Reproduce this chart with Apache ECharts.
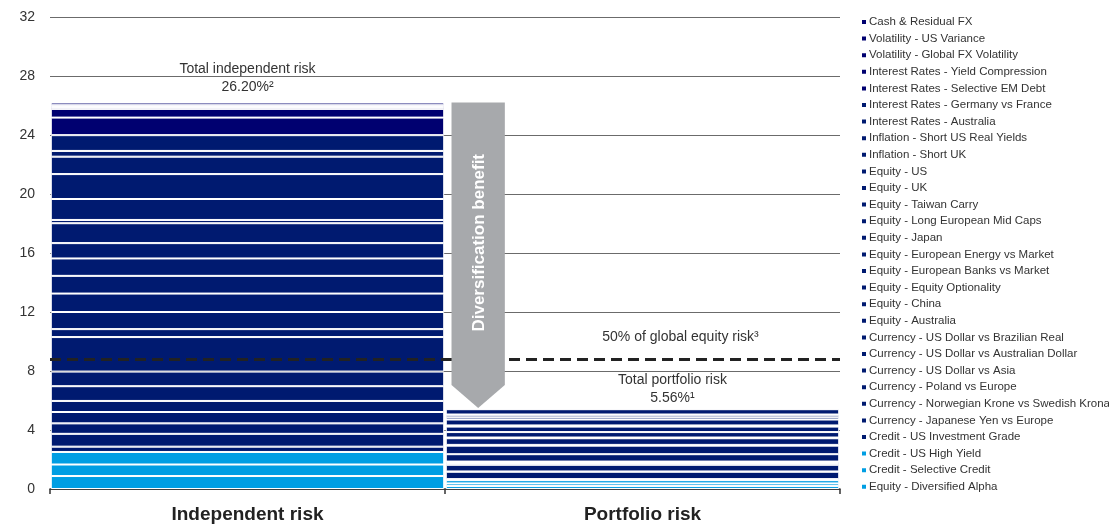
<!DOCTYPE html>
<html><head><meta charset="utf-8">
<script src="https://cdn.jsdelivr.net/npm/echarts@6/dist/echarts.min.js"></script>
<style>html,body{margin:0;padding:0;background:#fff}#c{width:1109px;height:524px}</style>
</head><body><div id="c"></div>
<script>
const categories = ['Independent risk', 'Portfolio risk'];
// stacked bottom -> top
const seriesNames = ['Equity - Diversified Alpha','Credit - Selective Credit','Credit - US High Yield','Credit - US Investment Grade','Currency - Japanese Yen vs Europe','Currency - Norwegian Krone vs Swedish Krona','Currency - Poland vs Europe','Currency - US Dollar vs Asia','Currency - US Dollar vs Australian Dollar','Currency - US Dollar vs Brazilian Real','Equity - Australia','Equity - China','Equity - Equity Optionality','Equity - European Banks vs Market','Equity - European Energy vs Market','Equity - Japan','Equity - Long European Mid Caps','Equity - Taiwan Carry','Equity - UK','Equity - US','Inflation - Short UK','Inflation - Short US Real Yields','Interest Rates - Australia','Interest Rates - Germany vs France','Interest Rates - Selective EM Debt','Interest Rates - Yield Compression','Volatility - Global FX Volatility','Volatility - US Variance','Cash & Residual FX'];
const independentRisk = [0.88,0.78,0.85,0.36,0.87,0.71,0.77,0.75,1.0,0.99,2.34,0.54,1.16,1.25,1.2,1.18,1.04,1.35,0.22,1.42,1.69,1.18,0.39,1.07,1.19,0.59,0.13,0.12,0.18];
const portfolioRisk = [0.2,0.18,0.22,0.07,0.5,0.02,0.45,0.12,0.1,0.5,0.58,0.03,0.02,0.45,0.05,0.37,0.37,0.06,0.02,0.4,0.15,0.17,0.02,0.36,0.05,0.04,0.02,0.02,0.02];
const totalLabels = ['Total independent risk\n26.20%\u00b2', 'Total portfolio risk\n5.56%\u00b9'];
const totals = [26.2, 5.56];
const equityRiskLevel = 8.8;
const equityRiskLabel = '50% of global equity risk\u00b3';
const arrowLabel = 'Diversification benefit';
const yMin = 0, yMax = 32, yInterval = 4;

const LIGHT = '#009ee3', NAVY = '#001a70', DEEP = '#000070';
const FONT = 'Liberation Sans, Arial, sans-serif';
function colorFor(i){ if (i < 3) return LIGHT; if (i >= 24) return DEEP; return NAVY; }

const chart = echarts.init(document.getElementById('c'));
const lastIdx = seriesNames.length - 1;
const series = seriesNames.map((name, i) => {
  const s = {
    name, type: 'bar', stack: 'risk', barWidth: '99.6%',
    data: [independentRisk[i], portfolioRisk[i]],
    itemStyle: { color: colorFor(i), borderColor: '#fff', borderWidth: 1 },
    emphasis: { disabled: true }
  };
  if (i === lastIdx) {
    s.data = [independentRisk[i], { value: portfolioRisk[i], label: { offset: [30, 7] } }];
    s.label = { show: true, position: 'top', distance: 6, color: '#333', fontSize: 14, lineHeight: 18,
      fontFamily: FONT, formatter: p => totalLabels[p.dataIndex] };
  }
  if (i === 0) {
    s.markLine = { silent: true, symbol: 'none', z: 5,
      lineStyle: { type: [11, 6], color: '#222', width: 3 },
      label: { show: false }, data: [{ yAxis: equityRiskLevel }] };
    s.markPoint = { silent: true, symbol: 'circle', symbolSize: 0,
      data: [{ coord: [categories[1], equityRiskLevel] }],
      label: { show: true, position: 'inside', offset: [38, -22], color: '#333', fontSize: 14,
        fontFamily: FONT, formatter: equityRiskLabel } };
  }
  return s;
});
series.push({
  type: 'custom', name: 'arrow', z: 10, silent: true,
  data: [[1, totals[0], totals[1]]],
  encode: { x: 0, y: [1, 2] },
  renderItem: function (params, api) {
    const topP = api.coord([api.value(0), api.value(1)]);
    const botP = api.coord([api.value(0), api.value(2)]);
    const band = api.size([1, 0])[0];
    const left = topP[0] - band / 2 + band * 0.0165;
    const w = band * 0.135;
    const tipY = botP[1] + 1;
    const bodyBottom = tipY - 23;
    const cx = left + w / 2;
    return { type: 'group', children: [
      { type: 'polygon', shape: { points: [[left, topP[1]], [left + w, topP[1]], [left + w, bodyBottom], [cx, tipY], [left, bodyBottom]] },
        style: { fill: '#a7a9ac' } },
      { type: 'text', x: cx + 1, y: (topP[1] + bodyBottom) / 2 - 1, rotation: Math.PI / 2,
        style: { text: arrowLabel, fill: '#fff', font: 'bold 17px "Liberation Sans", Arial, sans-serif', align: 'center', verticalAlign: 'middle' } }
    ]};
  }
});

chart.setOption({
  animation: false,
  grid: { left: 50, right: 269, top: 17, bottom: 35, outerBoundsMode: 'none', containLabel: false },
  legend: {
    orient: 'vertical', left: 855, top: 11, itemGap: 4.6, itemWidth: 6, itemHeight: 6, icon: 'rect',
    selectedMode: false,
    data: seriesNames.slice().reverse(),
    textStyle: { color: '#333', fontSize: 11.5, lineHeight: 12, padding: [0, 0, 0, -3], fontFamily: FONT }
  },
  xAxis: {
    type: 'category', data: categories,
    axisLine: { lineStyle: { color: '#333', width: 1.5 } },
    axisTick: { show: true, length: 5, lineStyle: { color: '#333', width: 1.5 } },
    axisLabel: { margin: 16, color: '#222', fontSize: 19, fontWeight: 'bold', fontFamily: FONT }
  },
  yAxis: {
    type: 'value', min: yMin, max: yMax, interval: yInterval,
    axisLine: { show: false }, axisTick: { show: false },
    axisLabel: { margin: 15, color: '#333', fontSize: 14, fontFamily: FONT },
    splitLine: { lineStyle: { color: '#6b6b6b', width: 1 } }
  },
  series
});
</script></body></html>
